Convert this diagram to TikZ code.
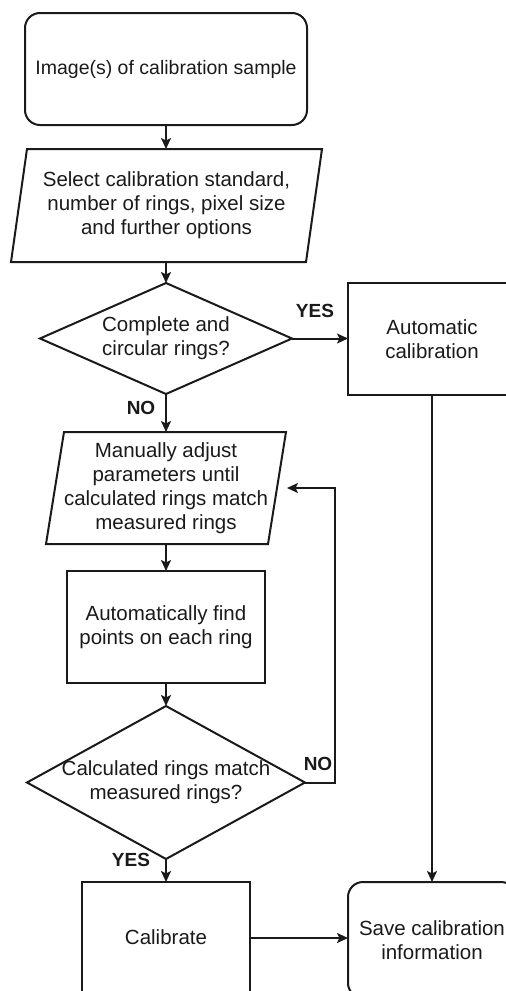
\documentclass[tikz,border=0pt]{standalone}
\usepackage{fontspec}
\setmainfont{Liberation Sans}
\usetikzlibrary{
    calc,
    arrows.meta
}
\definecolor{Traco}{HTML}{1A1A1A}

\tikzset{
    texto/.style={
        font=\fontsize{20.5}{24}\selectfont,
        text=Traco,
        align=center,
        inner sep=0pt,
        outer sep=0pt
    },
    caixa/.style={texto, draw=Traco, line width=2pt},
    inicio/.style={caixa, rounded corners=15pt},
    contorno/.style={draw=Traco, line width=2pt, line join=miter},
    seta/.style={
        draw=Traco,
        line width=2pt,
        -{Stealth[length=11pt,width=10pt,inset=2.5pt]}
    },
    resposta/.style={font=\fontsize{19}{19}\selectfont\bfseries, text=Traco}
}

\begin{document}
\begin{tikzpicture}[x=1pt,y=-1pt]
                \useasboundingbox (0,0) rectangle (506,991);
                \clip (0,0) rectangle (506,991);

                \node[
                    inicio,
                    font=\fontsize{19.5}{24}\selectfont,
                    minimum width=282pt,
                    minimum height=112pt
                ] (imagem) at (166,69) {Image(s) of calibration sample};

                \node[
                    texto,
                    minimum width=311pt,
                    minimum height=113pt
                ] (selecao) at (166.5,205.5) {
                    Select calibration standard,\\
                    number of rings, pixel size\\
                    and further options
                };
                \draw[contorno]
                    ([xshift=16pt]selecao.north west) -- (selecao.north east)
                    -- ([xshift=-16pt]selecao.south east) -- (selecao.south west)
                    -- cycle;

                \node[
                    texto,
                    minimum width=252pt,
                    minimum height=111pt
                ] (completo) at (166,338.5) {
                    Complete and\\
                    circular rings?
                };
                \draw[contorno]
                    (completo.north) -- (completo.east)
                    -- (completo.south) -- (completo.west) -- cycle;

                \node[
                    caixa,
                    minimum width=168pt,
                    minimum height=112pt
                ] (automatica) at (432,339) {
                    Automatic\\
                    calibration
                };

                \node[
                    texto,
                    minimum width=240pt,
                    minimum height=112pt
                ] (manual) at (166,488) {
                    Manually adjust\\
                    parameters until\\
                    calculated rings match\\
                    measured rings
                };
                \draw[contorno]
                    ([xshift=18pt]manual.north west) -- (manual.north east)
                    -- ([xshift=-18pt]manual.south east) -- (manual.south west)
                    -- cycle;

                \node[
                    caixa,
                    minimum width=198pt,
                    minimum height=112pt
                ] (pontos) at (166,627) {
                    Automatically find\\
                    points on each ring
                };

                \node[
                    texto,
                    minimum width=278pt,
                    minimum height=153pt
                ] (confere) at (166,782.5) {
                    Calculated rings match\\
                    measured rings?
                };
                \draw[contorno]
                    (confere.north) -- (confere.east)
                    -- (confere.south) -- (confere.west) -- cycle;

                \node[
                    caixa,
                    minimum width=168pt,
                    minimum height=110pt
                ] (calibrar) at (166,937) {Calibrate};

                \node[
                    inicio,
                    minimum width=168pt,
                    minimum height=116pt
                ] (salvar) at (432,940) {
                    Save calibration\\
                    information
                };

                \coordinate (retorno) at (287,488);

                \draw[seta] (imagem.south) -- (imagem.south |- selecao.north);
                \draw[seta] (selecao.south -| imagem.south) -- (completo.north);
                \draw[seta] (completo.east) -- (completo.east -| automatica.west);
                \draw[seta] (completo.south) -- (manual.north);
                \draw[seta] (manual.south) -- (pontos.north);
                \draw[seta] (pontos.south) -- (confere.north);
                \draw[seta] (confere.east) -- ++(30,0) |- (retorno);
                \draw[seta] (confere.south) -- (calibrar.north);
                \draw[seta] (calibrar.east |- 0,938) -- (salvar.west |- 0,938);
                \draw[seta] (automatica.south) -- (salvar.north);

                \node[resposta] (sim1) at (315,311) {YES};
                \node[resposta] (nao1) at (141,408) {NO};
                \node[resposta] (nao2) at (318,764) {NO};
                \node[resposta] (sim2) at (131,860) {YES};
            \end{tikzpicture}
\end{document}
